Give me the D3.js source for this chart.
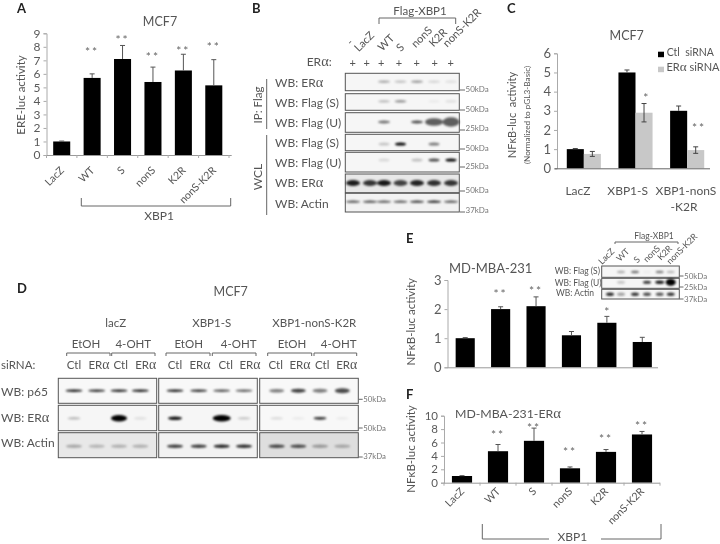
<!DOCTYPE html>
<html><head><meta charset="utf-8">
<script src="https://cdn.jsdelivr.net/npm/d3@7/dist/d3.min.js"></script>
<style>
html,body{margin:0;padding:0;background:#fff}
svg{display:block;filter:blur(0.4px)}
text{font-family:Lato,"Open Sans",sans-serif;fill:#555}
</style></head><body>
<svg id="fig" width="720" height="544" xmlns="http://www.w3.org/2000/svg"></svg>
<script>
// ---------- DATA ----------
const mutants = ["LacZ","WT","S","nonS","K2R","nonS-K2R"];
const ereValues = [1,5.7,7.1,5.4,6.25,5.15];
const ereTops = [1.03,6.0,8.1,6.5,7.45,7.05];
const ereStars = ["","**","**","**","**","**"];

const cGroups = ["LacZ","XBP1-S","XBP1-nonS"];
const cSeries = ["Ctl  siRNA","ERα siRNA"];
const cCtl = [1,5,3];
const cCtlErr = [0.03,0.13,0.25];
const cEra = [0.75,2.9,0.95];
const cEraErr = [0.13,0.48,0.17];

const eValues = [1,2.0,2.1,1.1,1.53,0.87];
const eTops = [1.02,2.08,2.42,1.23,1.75,1.03];
const eStars = ["","**","**","","*",""];

const fValues = [1,4.7,6.25,2.15,4.6,7.2];
const fTops = [1.05,5.7,8.15,2.35,4.95,7.65];
const fStars = ["","**","**","**","**","**"];

const blotBLanes = ["-","LacZ","WT","S","nonS","K2R","nonS-K2R"];
const blotBNames = ["WB: ERα","WB: Flag (S)","WB: Flag (U)","WB: Flag (S)","WB: Flag (U)","WB: ERα","WB: Actin"];
const blotBDensity = [
 [0,0,.32,.22,.38,.14,.1],
 [0,0,.24,.42,0,.05,.1],
 [0,0,.55,0,.7,.62,.62],
 [0,0,.2,1,0,.5,0],
 [0,0,.12,0,.22,.7,1],
 [.88,.78,.9,.72,.85,.8,.78],
 [.68,.7,.65,.65,.78,.88,.68]];
const blotBKda = ["50kDa","50kDa","25kDa","50kDa","25kDa","50kDa","37kDa"];

const blotDSirna = ["Ctl","ERα","Ctl","ERα","Ctl","ERα","Ctl","ERα","Ctl","ERα","Ctl","ERα"];
const blotDNames = ["WB: p65","WB: ERα","WB: Actin"];
const blotDDensity = [
 [.9,.82,.88,.9, .9,.82,.68,.62, .5,.75,.5,.7],
 [.25,0,1,.1, .92,0,1,.2, .12,.06,.82,.06],
 [.28,.22,.24,.24, .75,.75,.85,.82, .7,.68,.32,.26]];
const blotDKda = ["50kDa","50kDa","37kDa"];
const blotDGroups = ["lacZ","XBP1-S","XBP1-nonS-K2R"];

const blotENames = ["WB: Flag (S)","WB: Flag (U)","WB: Actin"];
const blotEDensity = [
 [0,.3,.55,.04,.5,.25],
 [0,.2,0,.8,.92,1],
 [.85,.35,.8,.7,.65,.8]];
const blotEKda = ["50kDa","25kDa","37kDa"];

// ---------- HELPERS ----------
const svg = d3.select("#fig");
const defs = svg.append("defs");
defs.append("filter").attr("id","soft").attr("x","-40%").attr("y","-80%").attr("width","180%").attr("height","260%")
  .append("feGaussianBlur").attr("stdDeviation",0.9);

function T(s,x,y,o={}){
  const n = svg.append("text").attr("x",x).attr("y",y)
    .attr("font-size",o.size||12).attr("text-anchor",o.anchor||"start");
  if(o.weight) n.attr("font-weight",o.weight);
  if(o.fill) n.style("fill",o.fill);
  if(o.rot!==undefined) n.attr("transform",`rotate(${o.rot} ${x} ${y})`);
  s.split(/(α)/).forEach(p=>{ if(!p) return;
    const ts=n.append("tspan").text(p).style("white-space","pre");
    if(p==="α") ts.style("font-family","'Liberation Serif',serif").attr("font-size",(o.size||12)*1.2);
  });
  return n;
}
function L(pts,o={}){
  svg.append("path").attr("d",d3.line()(pts)).attr("fill","none")
    .attr("stroke",o.c||"#666").attr("stroke-width",o.w||1);
}
function stars(s,x,y,size=12){
  if(s) T(s,x,y,{size,anchor:"middle",fill:"#666"}).attr("letter-spacing",s.length>1?2:0);
}
function yAxis(x,scale,ticks,size){
  const g = svg.append("g").attr("transform",`translate(${x},0)`)
    .call(d3.axisLeft(scale).tickValues(ticks).tickSize(3).tickPadding(3).tickFormat(d3.format("d")));
  g.selectAll("path,line").attr("stroke","#aaa");
  g.selectAll("text").attr("font-size",size).style("font-family","Lato,sans-serif").style("fill","#5a5a5a");
}
function xBase(band,xEnd,y,ticks){
  const step = band.step(), x0 = band.range()[0];
  L([[x0,y+.5],[xEnd,y+.5]],{c:"#999"});
  if(ticks) d3.range(band.domain().length+1).forEach(i=>L([[x0+i*step,y],[x0+i*step,y+3]],{c:"#aaa"}));
}
function barChart(o){
  const x = d3.scaleBand().domain(o.cats).range(o.xr).paddingInner(o.pad).paddingOuter(o.pad/2);
  const y = d3.scaleLinear().domain(o.yd).range(o.yr);
  yAxis(o.xr[0],y,o.ticks,o.tickSize);
  svg.append("g").selectAll("rect").data(o.values).join("rect")
    .attr("x",(d,i)=>x(o.cats[i])).attr("width",x.bandwidth())
    .attr("y",d=>y(d)).attr("height",d=>y(0)-y(d)).attr("fill","#000");
  o.tops.forEach((t,i)=>{
    const cx=x(o.cats[i])+x.bandwidth()/2;
    L([[cx,y(o.values[i])],[cx,y(t)]],{c:"#555"});
    L([[cx-2.5,y(t)],[cx+2.5,y(t)]],{c:"#555"});
  });
  xBase(x,o.xEnd,y(0),o.xTicks);
  return {x,y};
}
function blot(lanes,row,density,spread){
  svg.append("rect").attr("x",row.x0).attr("y",row.y0).attr("width",row.x1-row.x0).attr("height",row.y1-row.y0)
    .attr("fill",row.bg||"#f6f6f6").attr("stroke","#555").attr("stroke-width",1);
  svg.append("g").attr("filter","url(#soft)").selectAll("ellipse")
    .data(density.map((d,i)=>({d,i})).filter(e=>e.d>0)).join("ellipse")
    .attr("cx",e=>lanes[e.i]).attr("cy",row.band)
    .attr("rx",e=>((spread&&spread[e.i]&&spread[e.i][0])||row.w)/2)
    .attr("ry",e=>((spread&&spread[e.i]&&spread[e.i][1])||row.h)/2)
    .attr("fill","#000").attr("opacity",e=>e.d);
}
function kda(label,x0,x1,yTick,base,size){
  L([[x0,yTick],[x1,yTick]],{c:"#666"});
  T(label,x1+.5,base,{size,fill:"#777"});
}
function bracket(x0,x1,y0,y1,gap){
  if(gap){ L([[x0,y0],[x0,y1],[gap[0],y1]]); L([[gap[1],y1],[x1,y1],[x1,y0]]); }
  else L([[x0,y1],[x0,y0],[x1,y0],[x1,y1]]);
}

// ---------- PANEL LETTERS ----------
[["A",17,12.5],["B",252,12.5],["C",507,12.5],["D",17,293],["E",406,243],["F",406,399]]
  .forEach(d=>T(d[0],d[1],d[2],{size:13,weight:700,fill:"#222"}));

// ---------- PANEL A ----------
T("MCF7",160,26,{size:12.5,anchor:"middle"});
T("ERE-luc activity",25,95,{size:11.5,anchor:"middle",rot:-90});
const A = barChart({cats:mutants,values:ereValues,tops:ereTops,xr:[46.5,229],pad:.44,yd:[0,9],yr:[155,33.3],
  ticks:d3.range(0,10),tickSize:12,xEnd:231.7,xTicks:true});
[49,37,54,48,44].forEach((y,i)=>stars(ereStars[i+1],A.x(mutants[i+1])+A.x.bandwidth()/2,y+7));
mutants.forEach(m=>T(m,A.x(m)+A.x.bandwidth()/2+3,171,{size:10.5,anchor:"end",rot:-45}));
L([[81.3,198],[81.3,206],[230.7,206],[230.7,198]]);
T("XBP1",159,220,{size:12,anchor:"middle"});

// ---------- PANEL B ----------
T("Flag-XBP1",420,15,{size:11.5,anchor:"middle"});
bracket(379,455.7,18,24);
const bLabelEnds=[[354,43],[375,36],[395,39],[405,48],[433,31],[448,33],[482,13]];
blotBLanes.forEach((l,i)=>T(l,bLabelEnds[i][0],bLabelEnds[i][1],{size:11,anchor:"end",rot:-45}));
T("ERα:",331.7,66,{size:12,anchor:"end"});
const bPlus=[352.7,366.7,381.3,399,416.7,434.7,450.7];
bPlus.forEach(x=>T("+",x,66.5,{size:11,anchor:"middle"}));
const bLanes=[353,370,384,400.5,417,434,451];
const bRows=[
 {y0:73.3,y1:90.7,band:81.7,w:12,h:2.6},
 {y0:93.7,y1:110.3,band:101.3,w:12,h:2.6},
 {y0:112.7,y1:132.3,band:122,w:12,h:2.8},
 {y0:134.3,y1:150.7,band:144,w:11,h:3.2},
 {y0:152.3,y1:172,band:160,w:11,h:3},
 {y0:174,y1:192.7,band:183,w:14,h:6,bg:"#e8e8e8"},
 {y0:193.3,y1:212,band:201.7,w:14,h:2.2,bg:"#f2f2f2"}];
const bSpread=[null,null,[null,null,null,null,null,[18,7.5],[17,9.5]],null,null,null,null];
const bBase=[87,106.7,127,146.7,166.7,187,208];
const bTick=[90,110,130,149,167,191,212];
const bKbase=[91.7,112,131,151,169,193,213];
bRows.forEach((r,i)=>{
  blot(bLanes,Object.assign({x0:345.3,x1:459.3},r),blotBDensity[i],bSpread[i]);
  T(blotBNames[i],275,bBase[i],{size:12});
  kda(blotBKda[i],460,465,bTick[i],bKbase[i],8);
});
T("IP: Flag",262,105,{size:11.5,anchor:"middle",rot:-90});
T("WCL",262,177,{size:12,anchor:"middle",rot:-90});
L([[266.7,79],[266.7,129]]);L([[266.7,135],[266.7,215]]);

// ---------- PANEL C ----------
T("MCF7",626.7,40,{size:12.5,anchor:"middle"});
T("NFκB-luc  activity",516,115,{size:11,anchor:"middle",rot:-90});
T("(Normalized to pGL3-Basic)",530,115,{size:8.2,anchor:"middle",rot:-90});
const cx = d3.scaleBand().domain(cGroups).range([558,713]).paddingInner(.34).paddingOuter(.17);
const cSub = d3.scaleBand().domain(cSeries).range([0,cx.bandwidth()]);
const cy = d3.scaleLinear().domain([0,6]).range([168.3,53.3]);
yAxis(557,cy,d3.range(0,7),13);
[[cCtl,cCtlErr,"#000",cSeries[0]],[cEra,cEraErr,"#c8c8c8",cSeries[1]]].forEach(([v,e,c,s],si)=>{
  svg.append("g").selectAll("rect").data(v).join("rect")
    .attr("x",(d,i)=>cx(cGroups[i])+cSub(s)).attr("width",cSub.bandwidth())
    .attr("y",d=>cy(d)).attr("height",d=>cy(0)-cy(d)).attr("fill",c);
  v.forEach((d,i)=>{
    const m=cx(cGroups[i])+cSub(s)+cSub.bandwidth()/2, lo=si?cy(d-e[i]):cy(d), hi=cy(d+e[i]);
    L([[m,lo],[m,hi]],{c:"#444"});
    L([[m-2.5,hi],[m+2.5,hi]],{c:"#444"});
    if(si) L([[m-2.5,lo],[m+2.5,lo]],{c:"#444"});
  });
});
L([[555,168.8],[710,168.8]],{c:"#666"});
stars("*",645.7,102); stars("**",699,132);
const cLab=[578,627.7,686];
cGroups.forEach((g,i)=>T(g,cLab[i],195,{size:12,anchor:"middle"}));
T("-K2R",684,210.7,{size:12,anchor:"middle"});
svg.append("g").selectAll("rect").data(cSeries).join("rect")
  .attr("x",658).attr("y",(d,i)=>[51.7,66.7][i]).attr("width",6).attr("height",5.5)
  .attr("fill",(d,i)=>["#000","#c8c8c8"][i]);
T(cSeries[0],666.7,56,{size:10.5});
T(cSeries[1],666.5,71,{size:11});

// ---------- PANEL D ----------
T("MCF7",230.7,296,{size:12.5,anchor:"middle"});
[115.7,211.7,314.3].forEach((x,i)=>T(blotDGroups[i],x,327.3,{size:11.5,anchor:"middle"}));
[86,133.3,188.7,238.7,292,338.7].forEach((x,i)=>T(i%2?"4-OHT":"EtOH",x,348.3,{size:11.5,anchor:"middle"}));
[[66.7,110],[111.7,155],[166,210],[212.3,256],[267.7,311.7],[314,356.7]].forEach(b=>bracket(b[0],b[1],353,356));
T("siRNA:",1,369.3,{size:11.5});
[74,99,120.7,145.7,175,200,225.7,250,275.7,300,322.3,346.7].forEach((x,i)=>T(blotDSirna[i],x,369.3,{size:11.5,anchor:"middle"}));
const dPanels=[[58.3,156.7],[158.7,257.3],[259.7,358.3]];
const dLanes=[74,96.7,119,140.3,175,198.7,221.7,244,276.7,298.3,320,342.3];
const dRows=[{y0:378.3,y1:403.3,band:390.7,w:17,h:2.6},{y0:405.3,y1:430.7,band:418.3,w:13,h:2.4},{y0:432.7,y1:457.7,band:446.3,w:16,h:3.4}];
const dSpread=[
 [null,null,null,null,null,null,null,null,[15,3.5],[15,4],[15,4],[15,5]],
 [null,null,[16,6.5],null,[14,3.6],null,[18,6.5],null,null,null,[13,2.8],null],
 null];
const dBg=[["#f8f8f8","#f8f8f8","#f8f8f8"],["#f6f6f6","#f6f6f6","#f8f8f8"],["#e8e8e8","#f2f2f2","#dedede"]];
dRows.forEach((r,ri)=>{
  dPanels.forEach((p,pi)=>{
    const lanes=dLanes.slice(pi*4,pi*4+4);
    const sp=dSpread[ri]?dSpread[ri].slice(pi*4,pi*4+4):null;
    blot(lanes,Object.assign({x0:p[0],x1:p[1],bg:dBg[ri][pi]},r),blotDDensity[ri].slice(pi*4,pi*4+4),sp);
  });
  T(blotDNames[ri],1,[396,421.7,447.3][ri],{size:12});
  kda(blotDKda[ri],358.5,362.7,[399.3,428,457][ri],[402,431,459][ri],7.8);
});

// ---------- PANEL E ----------
T("MD-MBA-231",490.7,273,{size:13,anchor:"middle"});
T("NFκB-luc activity",415,321.7,{size:11.5,anchor:"middle",rot:-90});
const E = barChart({cats:mutants,values:eValues,tops:eTops,xr:[447.5,660],pad:.46,yd:[0,3],yr:[367.3,280],
  ticks:[0,1,2,3],tickSize:13,xEnd:658,xTicks:false});
[0,291,288,0,309,0].forEach((y,i)=>stars(eStars[i],E.x(mutants[i])+E.x.bandwidth()/2,y+7));
T("Flag-XBP1",654,239,{size:8.5,anchor:"middle"});
bracket(615,678,242,244);
const eEnds=[[615,252],[630,252],[640.7,260],[660.7,249],[672.7,249],[698,237]];
mutants.forEach((m,i)=>T(m,eEnds[i][0],eEnds[i][1],{size:8.8,anchor:"end",rot:-45}));
const eLanes=[610,621,635,647,659.7,670.7];
const eRows=[{y0:266,y1:277.3,band:272,w:8,h:2.4},{y0:278.3,y1:288.3,band:282.3,w:8,h:3},{y0:289.3,y1:299,band:294.3,w:8,h:3.4}];
const eSpread=[null,[null,null,null,null,[9,3.4],[10,7]],null];
eRows.forEach((r,i)=>{
  blot(eLanes,Object.assign({x0:601.7,x1:679.3},r),blotEDensity[i],eSpread[i]);
  T(blotENames[i],[554.7,554.7,556][i],[274,285.7,296][i],{size:8.5});
  kda(blotEKda[i],679.5,683.5,[276,287,299][i],[279,290,301.7][i],8);
});

// ---------- PANEL F ----------
T("MD-MBA-231-ERα",455,417.5,{size:12.3});
T("NFκB-luc activity",415,449,{size:11.5,anchor:"middle",rot:-90});
const F = barChart({cats:mutants,values:fValues,tops:fTops,xr:[444,660],pad:.44,yd:[0,10],yr:[482.7,415.7],
  ticks:d3.range(0,11,2),tickSize:11.5,xEnd:660,xTicks:true});
[0,432,425,449,435.7,422.7].forEach((y,i)=>stars(fStars[i],F.x(mutants[i])+F.x.bandwidth()/2,y+7));
mutants.forEach(m=>T(m,F.x(m)+F.x.bandwidth()/2+3,492,{size:10.5,anchor:"end",rot:-45}));
bracket(482.3,661,524,539,[549,601]);
T("XBP1",572.3,541,{size:12,anchor:"middle"});
</script>
</body></html>
